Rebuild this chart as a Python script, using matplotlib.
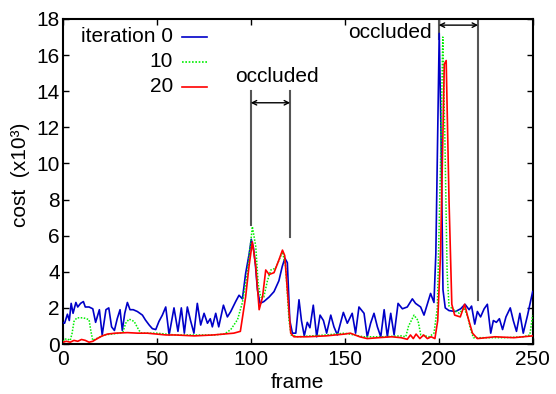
import matplotlib
matplotlib.use("Agg")
import matplotlib.pyplot as plt

plt.rcParams['font.family'] = ['Liberation Sans', 'DejaVu Sans']

# ---- data (frame, cost x10^3) ----
blue_f = [0, 1, 2.5, 3.5, 4.5, 5.5, 7, 8, 9.5, 11, 12, 14, 16, 17.5, 19.5, 21, 23, 24.5, 26, 27.5,
          29, 30.5, 31.7, 33, 34.4, 35.8, 37.5, 39.7, 42.4, 44, 46, 47.7, 49.5, 51.2, 53, 54.8, 56.6,
          59.2, 61.3, 63.1, 64.7, 66.3, 68, 69.8, 71.6, 73.4, 75.2, 77, 78.5, 79.6, 81.4, 83, 85.5,
          87.6, 89.4, 92, 93.8, 95.6, 97.3, 99.2, 100.3, 101.5, 102.5, 103.6, 105, 107, 109.8, 112.4,
          115, 116.8, 118.2, 119.5, 120.8, 122.2, 124, 125.7, 127, 128.5, 130.1, 131.5, 133.3, 135.1,
          136.9, 138.7, 140.4, 142.6, 144.3, 146.1, 149.3, 151.4, 154, 155.8, 157.6, 160.3, 162,
          163.8, 165.6, 167.4, 169.2, 171, 172.7, 174.5, 176.3, 178.4, 180.7, 183.3, 186, 187.7,
          190.4, 192.2, 195.7, 197.5, 198.5, 199.5, 200.3, 201.2, 202.3, 203.5, 205.5, 209, 211.7,
          214, 216.2, 217.5, 219.2, 220.6, 222.3, 224.2, 225.9, 227.7, 229.1, 230.7, 232.3, 234,
          235.8, 238.1, 239.7, 241.4, 243.2, 245, 247.3, 250]
blue_v = [1.2, 1.15, 1.65, 1.3, 2.25, 1.7, 2.3, 2.05, 2.25, 2.35, 2.05, 2.05, 1.95, 1.2, 1.9, 0.5, 1.9,
          2.0, 0.95, 0.75, 1.4, 1.9, 0.75, 1.7, 2.3, 1.9, 1.9, 1.8, 1.6, 1.33, 1.05, 0.85, 0.8, 1.25,
          1.6, 2.05, 0.5, 2.0, 0.7, 2.0, 0.6, 2.05, 1.3, 0.6, 2.25, 1.05, 1.7, 1.15, 1.4, 0.95, 1.7,
          0.95, 2.15, 1.5, 1.8, 2.35, 2.7, 2.5, 3.9, 5.0, 5.8, 5.3, 4.4, 3.0, 2.25, 2.35, 2.6, 2.9,
          3.5, 4.3, 4.75, 4.5, 1.3, 0.6, 0.6, 2.45, 1.3, 0.45, 1.2, 0.9, 2.15, 0.4, 1.6, 1.3, 0.6,
          1.6, 0.95, 0.5, 1.75, 1.15, 1.7, 0.6, 2.05, 1.7, 0.4, 1.15, 1.7, 0.95, 0.4, 1.9, 0.4, 1.7,
          0.5, 2.25, 1.95, 2.05, 2.5, 2.25, 2.05, 1.6, 2.8, 2.3, 5.0, 12.0, 17.2, 12.0, 3.0, 2.0,
          1.85, 1.8, 1.95, 2.2, 1.9, 2.1, 1.1, 1.8, 1.5, 1.95, 2.2, 0.6, 1.3, 1.2, 1.4, 0.8, 1.5,
          2.0, 1.3, 0.7, 1.7, 0.6, 1.6, 2.9]

green_f = [0, 2, 4, 5, 6, 7.5, 11, 14, 15, 16, 18, 22, 30, 32, 33.5, 35.3, 38, 40.6, 42, 50, 60, 70,
           80, 86, 89.4, 93, 95.6, 98.2, 100.9, 102.7, 104, 105.4, 107, 108.9, 110.7, 113.3, 116.9,
           118.6, 120.4, 121.5, 125, 140, 150, 160, 170, 180, 182.5, 184, 186.9, 189, 190.5, 195,
           197.5, 199.3, 201, 202.2, 203.2, 204.5, 205.5, 208, 211, 213.5, 215.5, 217, 218.5, 225,
           235, 245, 248.5, 250]
green_v = [0.15, 0.3, 0.2, 0.6, 1.25, 1.45, 1.45, 1.35, 0.7, 0.2, 0.3, 0.5, 0.6, 0.65, 1.15, 1.38,
           1.25, 0.75, 0.6, 0.6, 0.5, 0.5, 0.5, 0.55, 0.8, 1.35, 2.3, 3.9, 6.5, 5.4, 3.3, 2.6, 2.6,
           3.5, 4.1, 4.2, 5.1, 4.3, 1.3, 0.5, 0.4, 0.5, 0.6, 0.4, 0.4, 0.45, 0.4, 1.0, 1.6, 1.3, 0.5,
           0.4, 0.6, 2.0, 10.0, 17.0, 12.0, 4.0, 2.1, 1.9, 1.7, 2.0, 1.5, 0.8, 0.35, 0.35, 0.35, 0.4,
           0.5, 1.6]

red_f = [0, 2, 4, 6, 8, 10, 12, 14, 16, 18.4, 21, 23.8, 28, 34.4, 40, 45, 50, 55, 60, 70, 80, 91,
         94.5, 97.3, 99.1, 100.9, 102.7, 104.5, 106.3, 108, 109.8, 112.4, 115, 116.9, 118.1, 119.5,
         121.3, 123, 130, 140, 150, 153, 158, 162, 168, 175, 180, 183.3, 185, 186.5, 188, 190, 192,
         194, 196, 198, 199.5, 201, 203, 204, 205.5, 207, 208.5, 211.5, 213.8, 215.5, 218, 220.6,
         230, 240, 250]
red_v = [0.1, 0.15, 0.1, 0.2, 0.15, 0.25, 0.2, 0.1, 0.15, 0.3, 0.45, 0.55, 0.6, 0.63, 0.6, 0.6,
         0.55, 0.5, 0.5, 0.45, 0.5, 0.6, 0.7, 2.6, 4.3, 5.65, 4.3, 1.9, 2.6, 4.1, 3.85, 3.95, 4.65,
         5.2, 4.9, 3.0, 0.6, 0.4, 0.4, 0.45, 0.55, 0.6, 0.4, 0.3, 0.35, 0.4, 0.35, 0.26, 0.5, 0.3,
         0.55, 0.3, 0.5, 0.3, 0.4, 0.3, 1.3, 5.0, 15.5, 15.7, 8.0, 2.2, 1.6, 1.5, 2.2, 1.5, 0.6, 0.3,
         0.4, 0.35, 0.45]

legend_labels = ["iteration 0", "10", "20"]
occl1 = (100, 121)
occl2 = (200, 221)
xticks = [0, 50, 100, 150, 200, 250]
yticks = [0, 2, 4, 6, 8, 10, 12, 14, 16, 18]

fig = plt.figure(figsize=(5.56, 3.94), dpi=100)
ax = fig.add_axes([0.1128, 0.1269, 0.958 - 0.1128, 0.9518 - 0.1269])

FS = 15
c_blue, c_green, c_red = '#0000c8', '#00ee00', '#ff0000'
ax.plot(blue_f, blue_v, color=c_blue, lw=1.2, zorder=3)
ax.plot(green_f, green_v, color=c_green, lw=1.1, ls=(0, (1, 1)), zorder=4)
ax.plot(red_f, red_v, color=c_red, lw=1.2, zorder=5)

ax.set_xlim(0, 250)
ax.set_ylim(0, 18)
ax.set_xticks(xticks)
ax.set_yticks(yticks)
ax.tick_params(direction='in', length=4, width=1, top=True, right=True, labelsize=FS)
ax.tick_params(axis='x', pad=4.5)
ax.tick_params(axis='y', pad=2)
for s in ax.spines.values():
    s.set_linewidth(1.5)
ax.set_xlabel('frame', fontsize=FS, labelpad=3)
ax.set_ylabel('cost  (x10³)', fontsize=FS)
ax.yaxis.set_label_coords(-0.07, 0.52)

# occlusion markers
gray = '#555555'
ax.plot([occl1[0]] * 2, [6.6, 14.0], color=gray, lw=1.5, zorder=2)
ax.plot([occl1[1]] * 2, [5.9, 14.0], color=gray, lw=1.5, zorder=2)
ax.annotate('', xy=(occl1[0], 13.36), xytext=(occl1[1], 13.36),
            arrowprops=dict(arrowstyle='<->', color='black', lw=1, shrinkA=0, shrinkB=0,
                            mutation_scale=8))
ax.text(114, 14.8, 'occluded', fontsize=FS, ha='center', va='center')

ax.plot([occl2[0]] * 2, [16.9, 18], color=gray, lw=1.5, zorder=2)
ax.plot([occl2[1]] * 2, [2.45, 18], color=gray, lw=1.5, zorder=2)
ax.annotate('', xy=(occl2[0], 17.66), xytext=(occl2[1], 17.66),
            arrowprops=dict(arrowstyle='<->', color='black', lw=1, shrinkA=0, shrinkB=0,
                            mutation_scale=8))
ax.text(196.3, 17.25, 'occluded', fontsize=FS, ha='right', va='center')

# legend (manual, right-aligned labels with sample line after)
leg_y = [0.945, 0.868, 0.791]
leg_cols = [c_blue, c_green, c_red]
leg_ls = ['-', (0, (1, 1)), '-']
for lab, yy, cc, ls in zip(legend_labels, leg_y, leg_cols, leg_ls):
    ax.text(0.235, yy, lab, transform=ax.transAxes, fontsize=FS, ha='right', va='center')
    ax.plot([0.253, 0.307], [yy, yy], transform=ax.transAxes, color=cc, lw=1.2, ls=ls)

fig.savefig('out.png', dpi=100)
